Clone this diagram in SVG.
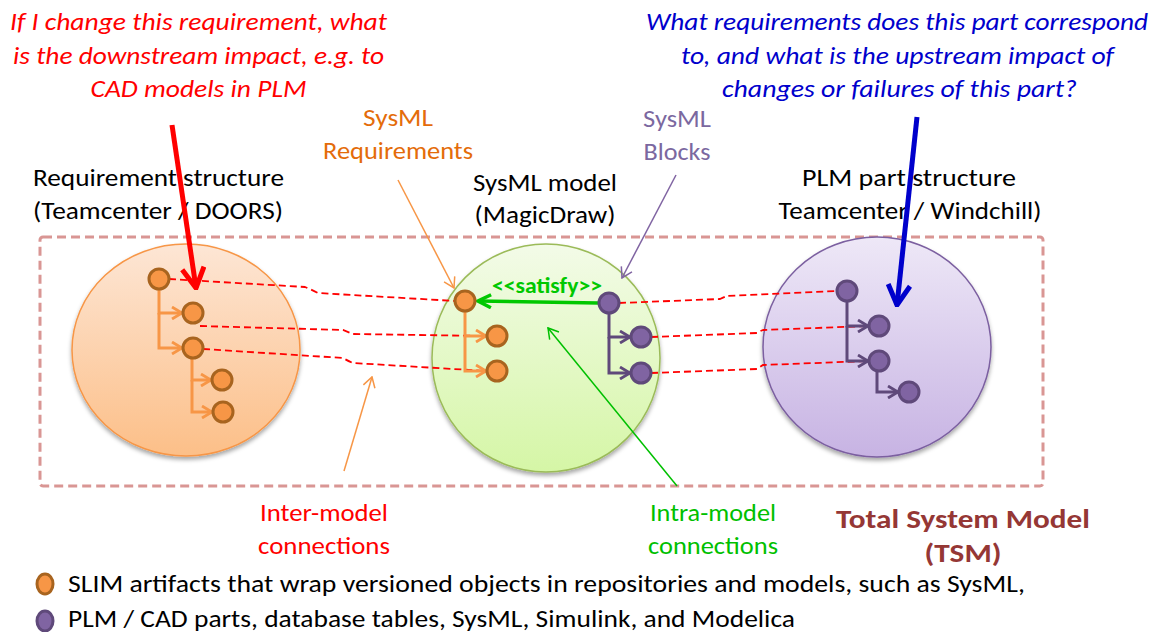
<svg xmlns="http://www.w3.org/2000/svg" width="1158" height="632" viewBox="0 0 1158 632">
<style>
text{font-family:Carlito,Calibri,Lato,"Liberation Sans",sans-serif;}
.q{font-style:italic;font-size:25px;text-anchor:middle;}
.lbl{font-size:25px;fill:#000;text-anchor:middle;}
.ann{font-size:25px;text-anchor:middle;}
.leg{font-size:25px;fill:#000;}
.tsm{font-size:27px;font-weight:bold;fill:#953735;text-anchor:middle;}
.on{fill:#f79646;stroke:#a8641f;stroke-width:3;}
.pn{fill:#8064a2;stroke:#5f497a;stroke-width:3;}
.red{fill:none;stroke:#ff0000;stroke-width:1.8;stroke-dasharray:7 4;}
.ot{fill:none;stroke:#f79646;stroke-width:3;marker-end:url(#mo);}
.pt{fill:none;stroke:#5f497a;stroke-width:3;marker-end:url(#mp);}
</style>
<defs>
<linearGradient id="gO" x1="0" y1="0" x2="0" y2="1"><stop offset="0" stop-color="#fde6d5"/><stop offset="1" stop-color="#fcbf88"/></linearGradient>
<linearGradient id="gG" x1="0" y1="0" x2="0" y2="1"><stop offset="0" stop-color="#f3fbe8"/><stop offset="1" stop-color="#d5f6a6"/></linearGradient>
<linearGradient id="gP" x1="0" y1="0" x2="0" y2="1"><stop offset="0" stop-color="#eee8f7"/><stop offset="1" stop-color="#c7b3e3"/></linearGradient>
<filter id="sh" x="-10%" y="-10%" width="120%" height="125%"><feDropShadow dx="0" dy="3" stdDeviation="2" flood-color="#000" flood-opacity="0.35"/></filter>
<marker id="mo" markerUnits="userSpaceOnUse" viewBox="0 0 12 14" refX="11" refY="7" markerWidth="12" markerHeight="14" orient="auto"><path d="M1,1 L11,7 L1,13" fill="none" stroke="#f79646" stroke-width="2.8"/></marker>
<marker id="mp" markerUnits="userSpaceOnUse" viewBox="0 0 12 14" refX="11" refY="7" markerWidth="12" markerHeight="14" orient="auto"><path d="M1,1 L11,7 L1,13" fill="none" stroke="#5f497a" stroke-width="2.8"/></marker>
<marker id="mg" markerUnits="userSpaceOnUse" viewBox="0 0 16 16" refX="14" refY="8" markerWidth="16" markerHeight="16" orient="auto"><path d="M1,1.5 L14,8 L1,14.5" fill="none" stroke="#00c800" stroke-width="3.5"/></marker>
<marker id="mr" markerUnits="userSpaceOnUse" viewBox="0 0 24 26" refX="22" refY="13" markerWidth="24" markerHeight="26" orient="auto"><path d="M2,2 L22,13 L2,24" fill="none" stroke="#ff0000" stroke-width="5"/></marker>
<marker id="mb" markerUnits="userSpaceOnUse" viewBox="0 0 24 26" refX="22" refY="13" markerWidth="24" markerHeight="26" orient="auto"><path d="M2,2 L22,13 L2,24" fill="none" stroke="#0000cc" stroke-width="5"/></marker>
<marker id="ao" markerUnits="userSpaceOnUse" viewBox="0 0 12 14" refX="11" refY="7" markerWidth="12" markerHeight="14" orient="auto"><path d="M1,1 L11,7 L1,13" fill="none" stroke="#f79646" stroke-width="1.5"/></marker>
<marker id="ap" markerUnits="userSpaceOnUse" viewBox="0 0 12 14" refX="11" refY="7" markerWidth="12" markerHeight="14" orient="auto"><path d="M1,1 L11,7 L1,13" fill="none" stroke="#8064a2" stroke-width="1.5"/></marker>
<marker id="ag" markerUnits="userSpaceOnUse" viewBox="0 0 12 14" refX="11" refY="7" markerWidth="12" markerHeight="14" orient="auto"><path d="M1,1 L11,7 L1,13" fill="none" stroke="#00c000" stroke-width="1.5"/></marker>
</defs>
<rect width="1158" height="632" fill="#fff"/>

<!-- TSM boundary -->
<g id="tsm">
<rect x="40" y="237" width="1003" height="249" rx="3" fill="none" stroke="#d99694" stroke-width="3" stroke-dasharray="9 5"/>
<text class="tsm" x="963" y="528" textLength="254" lengthAdjust="spacingAndGlyphs">Total System Model</text>
<text class="tsm" x="963" y="562" textLength="77" lengthAdjust="spacingAndGlyphs">(TSM)</text>
</g>

<!-- model containers -->
<g id="req-structure">
<ellipse cx="186" cy="350" rx="114" ry="106" fill="url(#gO)" stroke="#f79646" stroke-width="1.5" filter="url(#sh)"/>
<text class="lbl" x="158.5" y="186" textLength="251" lengthAdjust="spacingAndGlyphs">Requirement structure</text>
<text class="lbl" x="158" y="219" textLength="250" lengthAdjust="spacingAndGlyphs">(Teamcenter / DOORS)</text>
</g>
<g id="sysml-model">
<ellipse cx="546" cy="358" rx="114" ry="114" fill="url(#gG)" stroke="#9bbb59" stroke-width="1.5" filter="url(#sh)"/>
<text class="lbl" x="545" y="191" textLength="144" lengthAdjust="spacingAndGlyphs">SysML model</text>
<text class="lbl" x="545" y="223" textLength="141" lengthAdjust="spacingAndGlyphs">(MagicDraw)</text>
</g>
<g id="plm-structure">
<ellipse cx="877" cy="347" rx="114" ry="110" fill="url(#gP)" stroke="#7b5fa0" stroke-width="1.5" filter="url(#sh)"/>
<text class="lbl" x="909" y="186" textLength="214" lengthAdjust="spacingAndGlyphs">PLM part structure</text>
<text class="lbl" x="910" y="219" textLength="263" lengthAdjust="spacingAndGlyphs">Teamcenter / Windchill)</text>
</g>

<!-- connectors -->
<g id="connectors">
<path class="red" d="M169,279 L305,287 Q310,289 318,293 L455,301"/>
<path class="red" d="M200,326 L343,330 Q348,332 353,334 L487,336"/>
<path class="red" d="M203,349 L343,358 Q348,361 353,363 L487,371"/>
<path class="red" d="M619,303 L720,299 Q724,297 727,296 L837,291"/>
<path class="red" d="M651,337 L757,333 Q760,331 763,330 L869,326"/>
<path class="red" d="M651,373 L757,369 Q760,367 763,365 L869,361"/>
<path class="ot" d="M159,289 V313 H182"/>
<path class="ot" d="M159,313 V348 H182"/>
<path class="ot" d="M192,358 V380 H211"/>
<path class="ot" d="M192,380 V412 H212"/>
<path class="ot" d="M465,311 V336 H486"/>
<path class="ot" d="M465,336 V371 H486"/>
<path class="pt" d="M609,313 V337 H630"/>
<path class="pt" d="M609,337 V373 H630"/>
<path class="pt" d="M847,301 V326 H868"/>
<path class="pt" d="M847,326 V361 H868"/>
<path class="pt" d="M877,371 V392 H898"/>
<path d="M598,303 L478,301" fill="none" stroke="#00c800" stroke-width="3.5" marker-end="url(#mg)"/>
<text x="547" y="293" textLength="110" lengthAdjust="spacingAndGlyphs" style="font-size:22px;font-weight:bold;fill:#00c800;text-anchor:middle">&lt;&lt;satisfy&gt;&gt;</text>
<path d="M172,125 L196,288" fill="none" stroke="#ff0000" stroke-width="5" marker-end="url(#mr)"/>
<path d="M917,117 L897,305" fill="none" stroke="#0000cc" stroke-width="5" marker-end="url(#mb)"/>
<path d="M398,180 L454,288" fill="none" stroke="#f79646" stroke-width="1.5" marker-end="url(#ao)"/>
<path d="M676,175 L622,278" fill="none" stroke="#8064a2" stroke-width="1.5" marker-end="url(#ap)"/>
<path d="M677,486 L548,328" fill="none" stroke="#00c000" stroke-width="1.5" marker-end="url(#ag)"/>
<path d="M344,471 L372,377" fill="none" stroke="#f79646" stroke-width="1.5" marker-end="url(#ao)"/>
</g>

<!-- artifacts -->
<g id="r1"><circle class="on" cx="159" cy="279" r="10"/></g>
<g id="r2"><circle class="on" cx="193" cy="313" r="10"/></g>
<g id="r3"><circle class="on" cx="193" cy="348" r="10"/></g>
<g id="r4"><circle class="on" cx="222" cy="380" r="10"/></g>
<g id="r5"><circle class="on" cx="223" cy="412" r="10"/></g>
<g id="s1"><circle class="on" cx="465" cy="301" r="10"/></g>
<g id="s2"><circle class="on" cx="497" cy="336" r="10"/></g>
<g id="s3"><circle class="on" cx="497" cy="371" r="10"/></g>
<g id="b1"><circle class="pn" cx="609" cy="303" r="10"/></g>
<g id="b2"><circle class="pn" cx="641" cy="337" r="10"/></g>
<g id="b3"><circle class="pn" cx="641" cy="373" r="10"/></g>
<g id="p1"><circle class="pn" cx="847" cy="291" r="10"/></g>
<g id="p2"><circle class="pn" cx="879" cy="326" r="10"/></g>
<g id="p3"><circle class="pn" cx="879" cy="361" r="10"/></g>
<g id="p4"><circle class="pn" cx="909" cy="392" r="10"/></g>

<!-- annotations -->
<g id="q-down">
<text class="q" x="198.5" y="30" fill="#ff0000" textLength="377" lengthAdjust="spacingAndGlyphs">If I change this requirement, what</text>
<text class="q" x="198.5" y="64" fill="#ff0000" textLength="371" lengthAdjust="spacingAndGlyphs">is the downstream impact, e.g. to</text>
<text class="q" x="198.5" y="97" fill="#ff0000" textLength="216" lengthAdjust="spacingAndGlyphs">CAD models in PLM</text>
</g>
<g id="q-up">
<text class="q" x="897" y="30" fill="#0000cc" textLength="502" lengthAdjust="spacingAndGlyphs">What requirements does this part correspond</text>
<text class="q" x="897.5" y="64" fill="#0000cc" textLength="433" lengthAdjust="spacingAndGlyphs">to, and what is the upstream impact of</text>
<text class="q" x="899.5" y="97" fill="#0000cc" textLength="355" lengthAdjust="spacingAndGlyphs">changes or failures of this part?</text>
</g>
<g id="lbl-req">
<text class="ann" x="398" y="126" fill="#e46c0a" textLength="70" lengthAdjust="spacingAndGlyphs">SysML</text>
<text class="ann" x="398" y="159" fill="#e46c0a" textLength="150" lengthAdjust="spacingAndGlyphs">Requirements</text>
</g>
<g id="lbl-blocks">
<text class="ann" x="677" y="127" fill="#7b68a0" textLength="68" lengthAdjust="spacingAndGlyphs">SysML</text>
<text class="ann" x="677" y="160" fill="#7b68a0" textLength="67" lengthAdjust="spacingAndGlyphs">Blocks</text>
</g>
<g id="lbl-inter">
<text class="ann" x="324" y="521" fill="#ff0000" textLength="128" lengthAdjust="spacingAndGlyphs">Inter-model</text>
<text class="ann" x="324" y="554" fill="#ff0000" textLength="132" lengthAdjust="spacingAndGlyphs">connections</text>
</g>
<g id="lbl-intra">
<text class="ann" x="713" y="521" fill="#00c000" textLength="126" lengthAdjust="spacingAndGlyphs">Intra-model</text>
<text class="ann" x="713" y="554" fill="#00c000" textLength="130" lengthAdjust="spacingAndGlyphs">connections</text>
</g>

<!-- legend -->
<g id="legend">
<ellipse class="on" cx="45" cy="584" rx="8" ry="10"/>
<text class="leg" x="68" y="592" textLength="957" lengthAdjust="spacingAndGlyphs">SLIM artifacts that wrap versioned objects in repositories and models, such as SysML,</text>
<ellipse class="pn" cx="45" cy="621" rx="8" ry="10"/>
<text class="leg" x="68" y="627" textLength="727" lengthAdjust="spacingAndGlyphs">PLM / CAD parts, database tables, SysML, Simulink, and Modelica</text>
</g>
</svg>
